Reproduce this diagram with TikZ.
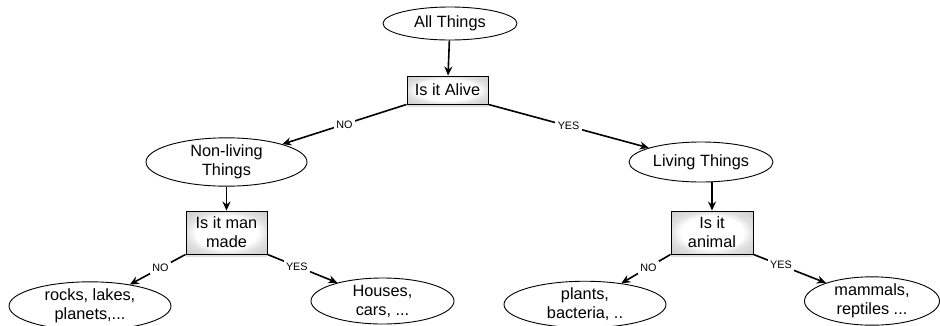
\documentclass[tikz,border=0pt]{standalone}
\usepackage{fontspec}
\setmainfont{Liberation Sans}
\usetikzlibrary{shapes.geometric,arrows.meta,shadows}
% soft grey glow along the inner edges of the question boxes
\pgfdeclareradialshading{innerglow}{\pgfpoint{0bp}{0bp}}{%
  color(0bp)=(white); color(19bp)=(white); color(25bp)=(black!12);
  color(35bp)=(black!20); color(50bp)=(black!20)}
\begin{document}
\begin{tikzpicture}[x=1pt,y=-1pt,
  every node/.style={font=\fontsize{16.3}{19}\selectfont, align=center, inner sep=0pt},
  concept/.style={ellipse, draw=black, line width=0.9pt, fill=white},
  question/.style={rectangle, draw=black, line width=0.9pt,
    shading=innerglow,
    drop shadow={shadow xshift=0pt, shadow yshift=-3pt, opacity=0.12, fill=black}},
  link/.style={draw=black, line width=1.6pt, -{Stealth[length=9pt,width=8pt]}},
  answer/.style={fill=white, font=\fontsize{10.8}{12}\selectfont, inner sep=2.5pt}]
\useasboundingbox (0,0) rectangle (940,325);

% concepts
\node[concept, minimum width=134pt, minimum height=33pt] (all) at (450,23.5) {All Things};
\node[concept, minimum width=161pt, minimum height=41pt] (nonliving) at (226.5,162) {Non-living\\Things};
\node[concept, minimum width=144pt, minimum height=40pt] (living) at (701,162) {Living Things};
\node[concept, minimum width=162pt, minimum height=37pt] (rocks) at (90,306) {rocks, lakes,\\planets,...};
\node[concept, minimum width=143pt, minimum height=46pt] (houses) at (382.5,301) {Houses,\\cars, ...};
\node[concept, minimum width=162pt, minimum height=41pt] (plants) at (585,304.5) {plants,\\bacteria, ..};
\node[concept, minimum width=135pt, minimum height=46pt] (mammals) at (872,301) {mammals,\\reptiles ...};

% questions
\node[question, minimum width=81pt, minimum height=28pt] (alive) at (447.5,90) {Is it Alive};
\node[question, minimum width=81pt, minimum height=43pt] (manmade) at (226.5,232.5) {Is it man\\made};
\node[question, minimum width=82pt, minimum height=43pt] (animal) at (712,232.5) {Is it\\animal};

% connectors
\draw[link] (all) -- (alive);
\draw[link] (alive.south west) -- node[answer] {NO} (nonliving);
\draw[link] (alive.south east) -- node[answer] {YES} (living);
\draw[link] (nonliving) -- (manmade);
\draw[link] (living.south -| animal.north) -- (animal);
\draw[link] (manmade.south west) -- node[answer, pos=0.45] {NO} (rocks);
\draw[link] (manmade.south east) -- node[answer, pos=0.42] {YES} (houses);
\draw[link] (animal.south west) -- node[answer, pos=0.45] {NO} (plants);
\draw[link] (animal.south east) -- node[answer, pos=0.38] {YES} (mammals);
\end{tikzpicture}
\end{document}
